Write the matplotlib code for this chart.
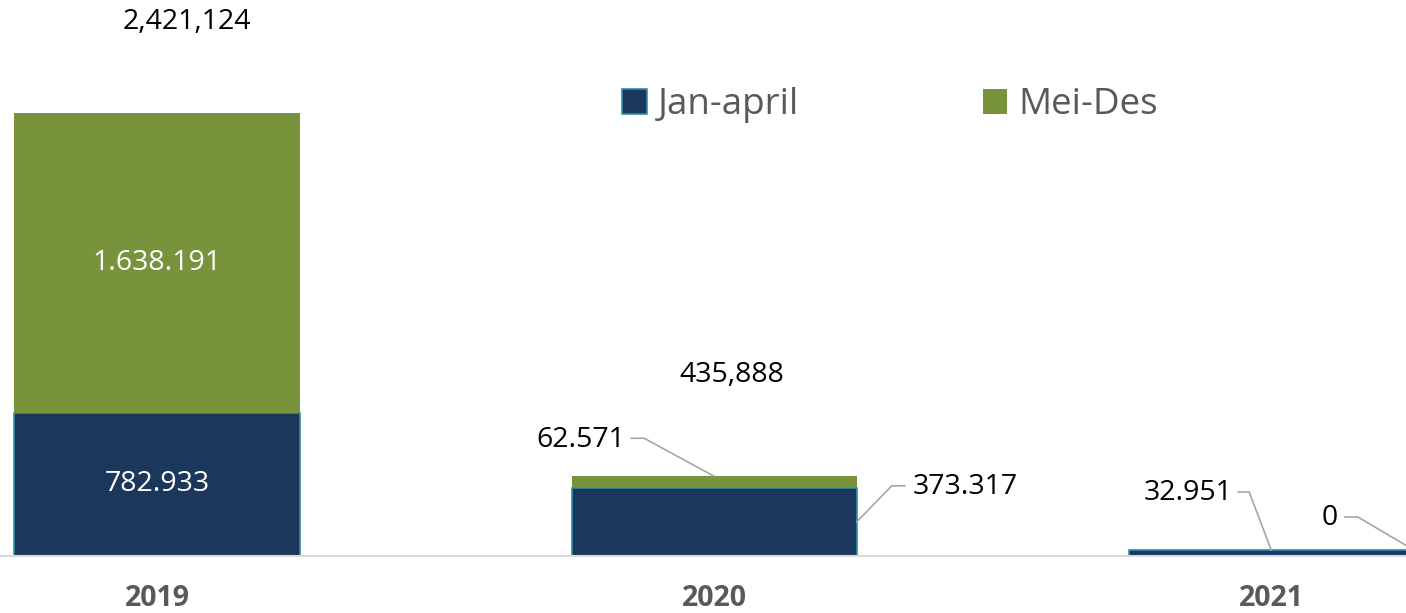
import matplotlib
matplotlib.use("Agg")
import matplotlib.pyplot as plt
import numpy as np

# Data
years = ["2019", "2020", "2021"]
jan_april = [782933, 373317, 32951]
mei_des = [1638191, 62571, 0]
totals = [2421124, 435888, 32951]
jan_labels = ["782.933", "373.317", "32.951"]
mei_labels = ["1.638.191", "62.571", "0"]
total_labels = ["2,421,124", "435,888"]

navy = "#1B375C"
green = "#77933C"
edge_teal = "#2E8FA8"
leader_grey = "#A6A6A6"
text_grey = "#595959"

plt.rcParams["font.family"] = ["Open Sans", "DejaVu Sans"]

W, H = 1406, 613
fig = plt.figure(figsize=(W / 100, H / 100), dpi=100)
base_px = 57
ax = fig.add_axes([0, base_px / H, 1, 1 - base_px / H])

x = np.arange(len(years))
width = 0.512
ax.bar(x, jan_april, width, color=navy, edgecolor=edge_teal, linewidth=1.2, label="Jan-april", zorder=2)
ax.bar(x, mei_des, width, bottom=jan_april, color=green, linewidth=0, label="Mei-Des", zorder=2)

ax.set_xlim(-0.282, 2.242)
ax.set_ylim(0, 3.0387e6)

for s in ["top", "left", "right"]:
    ax.spines[s].set_visible(False)
ax.spines["bottom"].set_color("#D9D9D9")
ax.spines["bottom"].set_linewidth(1.5)
ax.set_yticks([])
ax.set_xticks(x)
ax.set_xticklabels(years, fontsize=20.5, fontweight="bold", color=text_grey)
ax.tick_params(axis="x", length=0, pad=20)

fs = 20.5
# labels inside the 2019 bar
ax.text(x[0], jan_april[0] / 2, jan_labels[0], color="white", fontsize=fs, ha="center", va="center")
ax.text(x[0], jan_april[0] + mei_des[0] / 2, mei_labels[0], color="white", fontsize=fs, ha="center", va="center")

# total labels floating above bars
total_offsets = [(30, 91), (18, 101)]
for i, lab in enumerate(total_labels):
    ax.annotate(lab, (x[i], totals[i]), xytext=total_offsets[i], textcoords="offset pixels",
                fontsize=fs, ha="center", va="center", color="black")

# labels with leader lines: anchor, elbow offset, line end offset, text offset, ha
leaders = [
    ((x[1], jan_april[1] + mei_des[1]), (-70, 38), (-83, 38), (-89, 36), "right", mei_labels[1]),
    ((x[1] + width / 2, jan_april[1] / 2), (35, 36), (48, 36), (56, 35), "left", jan_labels[1]),
    ((x[2], jan_april[2]), (-22, 58), (-33, 58), (-39, 57), "right", jan_labels[2]),
    ((x[2] + width / 2, jan_april[2] + mei_des[2]), (-56, 33), (-69, 33), (-76, 32), "right", mei_labels[2]),
]
fig.canvas.draw()
for anchor, elbow, end, toff, ha, lab in leaders:
    ax0, ay0 = ax.transData.transform(anchor)
    xs = [ax0, ax0 + elbow[0], ax0 + end[0]]
    ys = [ay0, ay0 + elbow[1], ay0 + end[1]]
    fig.add_artist(plt.Line2D(xs, ys, transform=None, color=leader_grey, lw=1.2))
    ax.annotate(lab, anchor, xytext=toff, textcoords="offset pixels",
                fontsize=fs, ha=ha, va="center", color="black", annotation_clip=False)

fig.legend(loc="center", bbox_to_anchor=(890 / W, (H - 105) / H), ncol=2, frameon=False,
           fontsize=26.5, handlelength=0.67, handleheight=0.67, handletextpad=0.3,
           columnspacing=5.0, labelcolor=text_grey)

fig.savefig("out.png", dpi=100)
